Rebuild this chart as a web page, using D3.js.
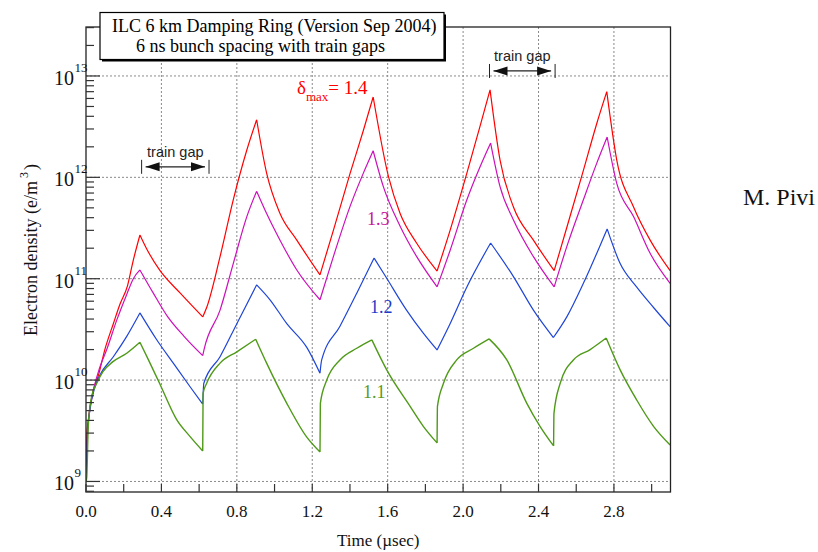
<!DOCTYPE html>
<html><head><meta charset="utf-8">
<script src="https://cdn.jsdelivr.net/npm/d3@7"></script>
<style>body{margin:0;background:#fff} svg{display:block}</style>
</head><body><svg id="c" width="818" height="552"></svg>
<script>
// ---------------- DATA ----------------
// time (µsec), electron density (e/m^3)
const dmax14 = [[0,1.5e9],[0.005,3.0e9],[0.012,4.0e9],[0.039,8e9],[0.065,1.1e10],[0.1,2.0e10],[0.145,3.6e10],[0.18,5.6e10],[0.22,8.5e10],[0.25,1.5e11],[0.286,2.7e11],
  [0.32,2.0e11],[0.39,1.22e11],[0.5,7.2e10],[0.619,4.2e10],
  [0.64,5.2e10],[0.711,1.65e11],[0.781,6.0e11],[0.853,1.86e12],[0.905,3.7e12],
  [0.958,1.1e12],[1.029,4.4e11],[1.118,2.4e11],[1.241,1.09e11],
  [1.312,3.0e11],[1.401,1.1e12],[1.471,2.9e12],[1.523,6.2e12],
  [1.604,1.02e12],[1.666,4.4e11],[1.754,2.24e11],[1.862,1.19e11],
  [1.931,3.0e11],[2.02,1.1e12],[2.09,3.2e12],[2.143,7.3e12],
  [2.196,1.48e12],[2.267,5.1e11],[2.373,2.4e11],[2.483,1.2e11],
  [2.55,3.2e11],[2.638,1.17e12],[2.709,3.4e12],[2.762,7.0e12],
  [2.815,1.48e12],[2.904,5.1e11],[2.992,2.4e11],[3.098,1.2e11]];
const dmax13 = [[0,1.5e9],[0.011,3.6e9],[0.04,8e9],[0.074,1.35e10],[0.11,2.0e10],[0.163,3.9e10],[0.216,7.0e10],[0.251,1.0e11],[0.286,1.22e11],
  [0.357,7.2e10],[0.43,4.3e10],[0.52,2.7e10],[0.619,1.74e10],
  [0.626,2.0e10],[0.711,4.9e10],[0.781,1.41e11],[0.853,4.1e11],[0.905,7.3e11],
  [0.958,4.4e11],[1.029,2.4e11],[1.118,1.22e11],[1.241,6.2e10],
  [1.312,1.65e11],[1.401,5.2e11],[1.471,1.1e12],[1.523,1.83e12],
  [1.577,8.1e11],[1.666,3.3e11],[1.754,1.65e11],[1.862,8.3e10],
  [1.931,1.9e11],[2.02,6.0e11],[2.09,1.27e12],[2.146,2.18e12],
  [2.196,8.1e11],[2.267,3.8e11],[2.373,1.65e11],[2.483,8.3e10],
  [2.55,2.07e11],[2.638,6.0e11],[2.709,1.38e12],[2.764,2.5e12],
  [2.815,8.7e11],[2.904,4.1e11],[2.992,1.78e11],[3.098,9.0e10]];
const dmax12 = [[0,1.2e9],[0.008,3.0e9],[0.021,5.1e9],[0.048,8.6e9],[0.074,1.12e10],[0.145,1.7e10],[0.216,2.7e10],[0.286,4.6e10],
  [0.375,2.5e10],[0.463,1.47e10],[0.552,8.6e9],[0.619,5.8e9],
  [0.625,9.3e9],[0.711,1.7e10],[0.8,3.6e10],[0.905,8.7e10],
  [0.976,6.2e10],[1.065,3.6e10],[1.171,2.1e10],[1.241,1.17e10],
  [1.25,1.58e10],[1.347,3.4e10],[1.436,7.2e10],[1.528,1.6e11],
  [1.595,1.01e11],[1.7,4.9e10],[1.789,2.9e10],[1.862,1.98e10],
  [1.931,3.6e10],[2.02,8.3e10],[2.146,2.25e11],
  [2.267,1.05e11],[2.373,4.9e10],[2.479,2.63e10],
  [2.55,4.2e10],[2.638,9.0e10],[2.764,3.1e11],
  [2.833,1.41e11],[2.92,8.3e10],[3.01,5.2e10],[3.098,3.36e10]];
const dmax11 = [[0,1.0e9],[0.004,1.1e9],[0.012,3.5e9],[0.03,6.9e9],[0.057,9.3e9],[0.09,1.21e10],[0.143,1.52e10],[0.216,1.84e10],[0.286,2.36e10],
  [0.33,1.6e10],[0.39,9.3e9],[0.48,4.1e9],[0.55,2.8e9],[0.619,2.0e9],
  [0.621,7.4e9],[0.64,9.3e9],[0.711,1.47e10],[0.8,1.9e10],[0.9,2.53e10],
  [0.958,1.47e10],[1.065,5.9e9],[1.17,2.75e9],[1.241,1.95e9],
  [1.243,5.9e9],[1.277,1.0e10],[1.347,1.58e10],[1.436,2.06e10],[1.516,2.49e10],
  [1.595,1.26e10],[1.719,5.5e9],[1.789,3.5e9],[1.862,2.4e9],
  [1.864,5.5e9],[1.896,9.3e9],[1.966,1.58e10],[2.055,2.06e10],[2.138,2.55e10],
  [2.232,1.58e10],[2.338,5.9e9],[2.408,3.5e9],[2.48,2.24e9],
  [2.482,4.7e9],[2.515,9.3e9],[2.585,1.58e10],[2.674,2.0e10],[2.759,2.6e10],
  [2.833,1.26e10],[2.92,6.4e9],[3.01,3.5e9],[3.098,2.29e9]];

const seriesLabels = ["= 1.4", "1.3", "1.2", "1.1"];
const xTickLabels = ["0.0","0.4","0.8","1.2","1.6","2.0","2.4","2.8"];
const yDecadeExps = [9, 10, 11, 12, 13];
const titleLines = ["ILC 6 km Damping Ring (Version Sep 2004)", "6 ns bunch spacing with train gaps"];
// train gap markers: [t start, t end, density level]
const trainGaps = [[0.295, 0.6525, 1.27e12], [2.14, 2.488, 1.12e13]];

// ---------------- LAYOUT ----------------
const L = 86, R = 670.5, T = 27, B = 492;
const serif = "'Liberation Serif','Times New Roman',serif";
const sans = "'Liberation Sans',Arial,sans-serif";
const colors = ["#ff0000", "#cc11bb", "#1f45d6", "#4f9a18"];

const svg = d3.select("#c");
const x = d3.scaleLinear().domain([0, 3.1]).range([L, R]);
const y = d3.scaleLog().domain([Math.pow(10, 8.896), Math.pow(10, 13.483)]).range([B, T]);

svg.append("defs").append("clipPath").attr("id", "clip")
  .append("rect").attr("x", L).attr("y", T).attr("width", R - L).attr("height", B - T);

// grid
const grid = svg.append("g").attr("stroke", "#8a8a8a").attr("stroke-width", 1).attr("stroke-dasharray", "2,2");
xTickLabels.forEach(s => {
  const v = +s; if (v <= 0) return;
  grid.append("line").attr("x1", x(v)).attr("x2", x(v)).attr("y1", T).attr("y2", B);
});
yDecadeExps.forEach(e => {
  grid.append("line").attr("x1", L).attr("x2", R).attr("y1", y(Math.pow(10, e))).attr("y2", y(Math.pow(10, e)));
});

// split a series into monotone runs so peaks stay sharp while runs are smooth
function runs(data) {
  const out = []; let start = 0;
  for (let i = 1; i < data.length - 1; i++) {
    const d1 = Math.sign(data[i][1] - data[i - 1][1]), d2 = Math.sign(data[i + 1][1] - data[i][1]);
    if (d1 !== d2) { out.push(data.slice(start, i + 1)); start = i; }
  }
  out.push(data.slice(start));
  return out;
}
const line = d3.line().x(d => x(d[0])).y(d => y(d[1])).curve(d3.curveMonotoneX);
const gl = svg.append("g").attr("clip-path", "url(#clip)");
[dmax14, dmax13, dmax12, dmax11].forEach((s, i) => {
  const d = runs(s).map(r => line(r)).join("");
  gl.append("path").attr("d", d).attr("fill", "none")
    .attr("stroke", colors[i]).attr("stroke-width", i === 3 ? 1.4 : 1.2).attr("stroke-linejoin", "round");
});

// frame
svg.append("rect").attr("x", L).attr("y", T).attr("width", R - L).attr("height", B - T)
  .attr("fill", "none").attr("stroke", "#222").attr("stroke-width", 1.3);

// ticks
const ax = svg.append("g").attr("stroke", "#333").attr("stroke-width", 1.2);
d3.range(0, 16).forEach(i => {
  const v = i * 0.2; if (v > 3.1) return;
  ax.append("line").attr("x1", x(v)).attr("x2", x(v)).attr("y1", B).attr("y2", B - 8);
});
[8, 9, 10, 11, 12, 13].forEach(e => {
  for (let m = 1; m <= 9; m++) {
    const v = m * Math.pow(10, e);
    const [d0, d1] = y.domain();
    if (v < d0 || v > d1) continue;
    ax.append("line").attr("x1", L).attr("x2", L + (m === 1 ? 14 : 8)).attr("y1", y(v)).attr("y2", y(v));
  }
});

// tick labels
xTickLabels.forEach(s => {
  svg.append("text").attr("x", x(+s)).attr("y", 517).attr("text-anchor", "middle")
    .attr("font-family", serif).attr("font-size", 17).attr("fill", "#111").text(s);
});
yDecadeExps.forEach(e => {
  const yy = y(Math.pow(10, e));
  svg.append("text").attr("x", 74).attr("y", yy + 9).attr("text-anchor", "end")
    .attr("font-family", serif).attr("font-size", 20).attr("fill", "#111").text("10");
  svg.append("text").attr("x", 74.5).attr("y", yy - 4).attr("text-anchor", "start")
    .attr("font-family", serif).attr("font-size", 13).attr("fill", "#111").text(String(e));
});

// axis titles
svg.append("text").attr("x", (L + R) / 2).attr("y", 546).attr("text-anchor", "middle")
  .attr("font-family", serif).attr("font-size", 17).attr("fill", "#111").text("Time (\u00b5sec)");
const yt = svg.append("text").attr("transform", "translate(37,250) rotate(-90)").attr("text-anchor", "middle")
  .attr("font-family", serif).attr("font-size", 18).attr("fill", "#111");
yt.append("tspan").text("Electron density (e/m");
yt.append("tspan").attr("font-size", 12).attr("dy", -9).attr("dx", 3).text("3");
yt.append("tspan").attr("dy", 9).attr("dx", 2).text(")");

// title box
const bx = 100, by = 12.5, bw = 344, bh = 47;
svg.append("rect").attr("x", bx + 2).attr("y", by + 2).attr("width", bw).attr("height", bh).attr("fill", "#000");
svg.append("rect").attr("x", bx).attr("y", by).attr("width", bw).attr("height", bh)
  .attr("fill", "#fff").attr("stroke", "#000").attr("stroke-width", 1.2);
svg.append("text").attr("x", 112).attr("y", 32).attr("font-family", serif).attr("font-size", 18).attr("fill", "#000").text(titleLines[0]);
svg.append("text").attr("x", 136).attr("y", 52).attr("font-family", serif).attr("font-size", 18).attr("fill", "#000").text(titleLines[1]);

// series labels
const dl = svg.append("text").attr("x", 297).attr("y", 94).attr("font-family", serif).attr("font-size", 19).attr("fill", colors[0]);
dl.append("tspan").text("\u03b4");
dl.append("tspan").attr("font-size", 13).attr("dy", 7).text("max");
dl.append("tspan").attr("dy", -7).text(seriesLabels[0]);
const labelPos = [null, [367, 225], [370, 313], [363, 398]];
const labelCols = [null, "#c8149e", "#1a3cc8", "#5a9a20"];
[1, 2, 3].forEach(i => {
  svg.append("text").attr("x", labelPos[i][0]).attr("y", labelPos[i][1])
    .attr("font-family", serif).attr("font-size", 18).attr("fill", labelCols[i]).text(seriesLabels[i]);
});

// train gap annotations
trainGaps.forEach(g => {
  const x1 = x(g[0]), x2 = x(g[1]), yy = y(g[2]);
  const a = svg.append("g").attr("stroke", "#222").attr("fill", "#111");
  a.append("line").attr("x1", x1).attr("x2", x1).attr("y1", yy - 7).attr("y2", yy + 7).attr("stroke-width", 1);
  a.append("line").attr("x1", x2).attr("x2", x2).attr("y1", yy - 7).attr("y2", yy + 7).attr("stroke-width", 1);
  a.append("line").attr("x1", x1 + 4).attr("x2", x2 - 4).attr("y1", yy).attr("y2", yy).attr("stroke-width", 1.2);
  a.append("path").attr("stroke", "none").attr("d", `M${x1 + 4},${yy} L${x1 + 18},${yy - 4.5} L${x1 + 18},${yy + 4.5} Z`);
  a.append("path").attr("stroke", "none").attr("d", `M${x2 - 4},${yy} L${x2 - 18},${yy - 4.5} L${x2 - 18},${yy + 4.5} Z`);
  svg.append("text").attr("x", (x1 + x2) / 2).attr("y", yy - 10).attr("text-anchor", "middle")
    .attr("font-family", sans).attr("font-size", 14.5).attr("fill", "#222").text("train gap");
});

// author
svg.append("text").attr("x", 815).attr("y", 205).attr("text-anchor", "end")
  .attr("font-family", serif).attr("font-size", 24).attr("fill", "#111").text("M. Pivi");
</script></body></html>
